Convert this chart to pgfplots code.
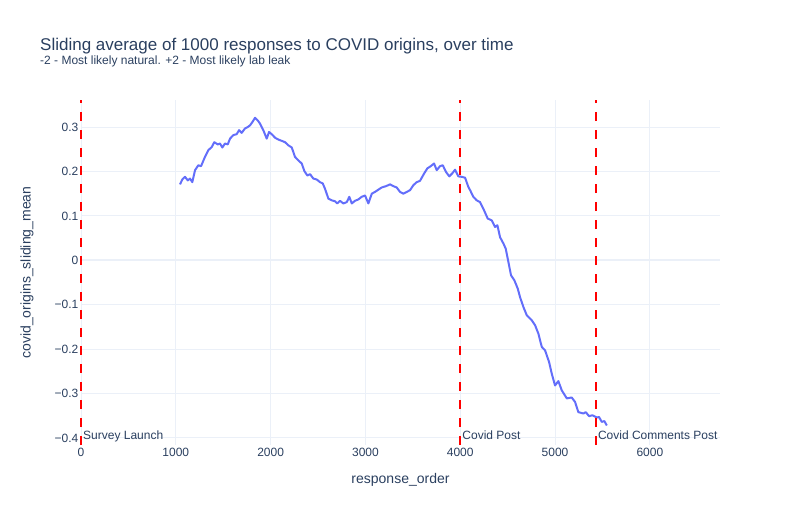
\documentclass[border=0pt]{standalone}
\usepackage{fontspec}
\setmainfont{Liberation Sans}
\usepackage{pgfplots}
\pgfplotsset{compat=1.18}
\definecolor{txt}{HTML}{2A3F5F}
\definecolor{gridc}{HTML}{EBF0F8}
\definecolor{line1}{HTML}{636EFA}
\begin{document}
\begin{tikzpicture}
\path[use as bounding box] (0,0) rectangle (800bp,-525bp);
\begin{axis}[
  at={(81bp,-445bp)}, anchor=south west,
  scale only axis, width=639bp, height=345bp,
  xmin=0, xmax=6740, ymin=-0.416, ymax=0.361,
  axis line style={draw=none},
  major tick length=0pt,
  xtick={0,1000,2000,3000,4000,5000,6000},
  ytick={-0.4,-0.3,-0.2,-0.1,0,0.1,0.2,0.3},
  yticklabels={−0.4,−0.3,−0.2,−0.1,0,0.1,0.2,0.3},
  xticklabels={0,1000,2000,3000,4000,5000,6000},
  grid=major,
  major grid style={gridc, line width=1bp},
  xticklabel style={font=\fontsize{12bp}{14bp}\selectfont, text=txt, anchor=north, inner sep=0pt, yshift=-3bp},
  yticklabel style={font=\fontsize{12bp}{14bp}\selectfont, text=txt, anchor=east, inner sep=0pt, xshift=-2.5bp},
  xlabel={response\_order},
  ylabel={covid\_origins\_sliding\_mean},
  xlabel style={font=\fontsize{14bp}{16bp}\selectfont, text=txt, at={(axis description cs:0.5,-0.1014)}, anchor=center},
  ylabel style={font=\fontsize{14bp}{16bp}\selectfont, text=txt, at={(axis description cs:-0.0845,0.5)}, anchor=center},
  clip=false,
]
\addplot[gridc, line width=2bp, forget plot] coordinates {(0,0) (6740,0)};
\addplot[line1, line width=2bp, line join=round] coordinates {
(1044,0.171) (1069,0.182) (1097,0.188) (1126,0.180) (1150,0.184) (1174,0.176)
(1203,0.203) (1237,0.214) (1266,0.212) (1308,0.233) (1343,0.248) (1379,0.255)
(1406,0.266) (1442,0.261) (1466,0.263) (1491,0.254) (1519,0.263) (1548,0.261)
(1572,0.274) (1607,0.282) (1642,0.284) (1667,0.293) (1695,0.287) (1730,0.297)
(1758,0.300) (1783,0.304) (1807,0.311) (1836,0.321) (1864,0.315) (1888,0.308)
(1923,0.293) (1959,0.274) (1983,0.289) (2012,0.284) (2047,0.276) (2081,0.272)
(2117,0.269) (2152,0.266) (2187,0.259) (2223,0.254) (2257,0.233) (2292,0.225)
(2328,0.218) (2356,0.201) (2387,0.191) (2416,0.194) (2451,0.184) (2486,0.182)
(2521,0.176) (2550,0.173) (2574,0.161) (2609,0.139) (2645,0.135) (2679,0.133)
(2704,0.128) (2732,0.134) (2767,0.128) (2803,0.131) (2830,0.143) (2856,0.128)
(2890,0.134) (2925,0.137) (2961,0.143) (2996,0.146) (3031,0.128) (3067,0.150)
(3101,0.154) (3136,0.159) (3172,0.164) (3217,0.167) (3260,0.171) (3294,0.167)
(3330,0.164) (3365,0.154) (3400,0.150) (3436,0.154) (3471,0.158) (3505,0.169)
(3541,0.176) (3576,0.179) (3618,0.195) (3653,0.207) (3689,0.212) (3724,0.218)
(3752,0.203) (3787,0.212) (3816,0.214) (3850,0.199) (3885,0.189) (3921,0.197)
(3945,0.204) (3980,0.189) (4016,0.188) (4051,0.186) (4086,0.165) (4104,0.158)
(4138,0.143) (4174,0.135) (4209,0.131) (4244,0.116) (4290,0.094) (4332,0.090)
(4367,0.075) (4392,0.079) (4420,0.052) (4455,0.038) (4480,0.026) (4508,-0.004)
(4536,-0.034) (4571,-0.045) (4607,-0.064) (4631,-0.083) (4666,-0.105) (4702,-0.124)
(4754,-0.135) (4789,-0.146) (4824,-0.165) (4860,-0.195) (4895,-0.203) (4937,-0.229)
(4965,-0.255) (5000,-0.282) (5035,-0.272) (5071,-0.293) (5124,-0.311) (5176,-0.309)
(5211,-0.319) (5246,-0.342) (5299,-0.345) (5324,-0.342) (5359,-0.351) (5394,-0.349)
(5440,-0.354) (5464,-0.353) (5493,-0.364) (5520,-0.362) (5546,-0.372)
};
\addplot[red, line width=2bp, dash pattern=on 9bp off 9bp, forget plot] coordinates {(0,-0.416) (0,0.361)};
\addplot[red, line width=2bp, dash pattern=on 9bp off 9bp, forget plot] coordinates {(4000,-0.416) (4000,0.361)};
\addplot[red, line width=2bp, dash pattern=on 9bp off 9bp, forget plot] coordinates {(5430,-0.416) (5430,0.361)};
\node[anchor=base west, inner sep=0pt, text=txt, font=\fontsize{12bp}{14bp}\selectfont, xshift=2bp] at (axis cs:0,-0.403) {Survey Launch};
\node[anchor=base west, inner sep=0pt, text=txt, font=\fontsize{12bp}{14bp}\selectfont, xshift=2bp] at (axis cs:4000,-0.403) {Covid Post};
\node[anchor=base west, inner sep=0pt, text=txt, font=\fontsize{12bp}{14bp}\selectfont, xshift=2bp] at (axis cs:5430,-0.403) {Covid Comments Post};
\end{axis}
\node[anchor=base west, inner sep=0pt, text=txt, font=\fontsize{17bp}{20bp}\selectfont] at (40bp,-50bp) {Sliding average of 1000 responses to COVID origins, over time};
\node[anchor=base west, inner sep=0pt, text=txt, font=\fontsize{12bp}{14bp}\selectfont] at (40bp,-64bp) {-2 - Most likely natural. +2 - Most likely lab leak};
\end{tikzpicture}
\end{document}
